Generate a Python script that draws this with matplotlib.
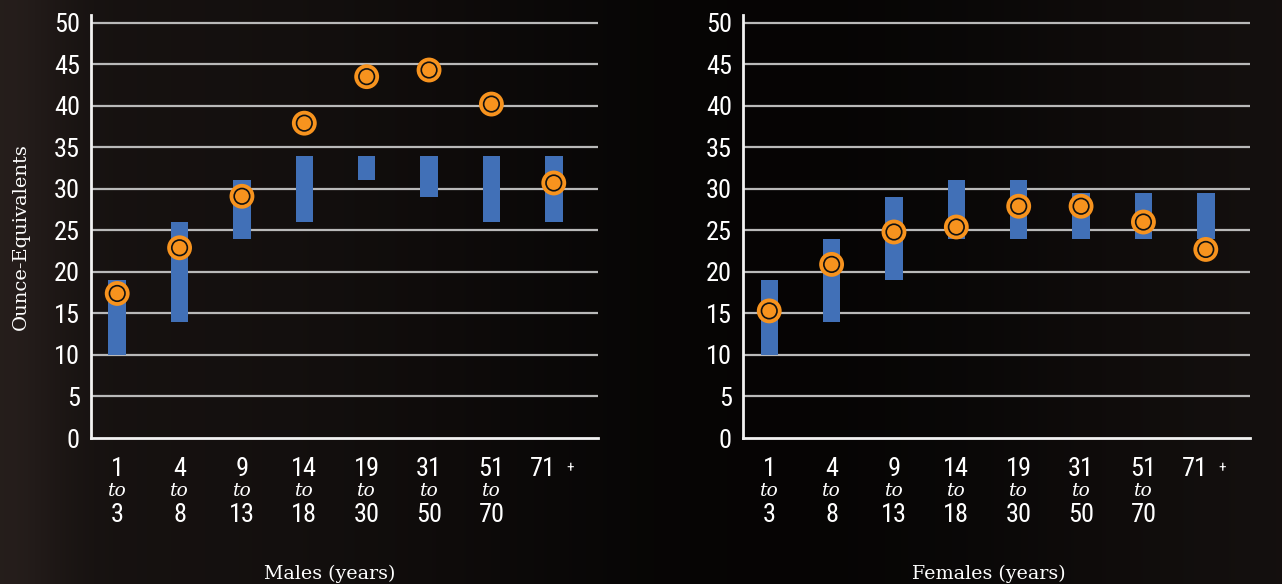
import matplotlib
matplotlib.use("Agg")
import matplotlib.pyplot as plt
from matplotlib import font_manager
import numpy as np

# ---- data ----
age_start = ["1", "4", "9", "14", "19", "31", "51", "71"]
age_end = ["3", "8", "13", "18", "30", "50", "70", ""]

male_low = [10, 14, 24, 26, 31, 29, 26, 26]
male_high = [19, 26, 31, 34, 34, 34, 34, 34]
male_current = [17.4, 22.9, 29.1, 37.9, 43.5, 44.3, 40.2, 30.7]

female_low = [10, 14, 19, 24, 24, 24, 24, 24]
female_high = [19, 24, 29, 31, 31, 29.5, 29.5, 29.5]
female_current = [15.3, 20.9, 24.8, 25.4, 27.9, 27.9, 26.0, 22.7]

y_ticks = [0, 5, 10, 15, 20, 25, 30, 35, 40, 45, 50]

# ---- fonts ----
available = {f.name for f in font_manager.fontManager.ttflist}
num_font = None
for cand in ["Liberation Sans Narrow", "DejaVu Sans Condensed", "Roboto Condensed", "Roboto"]:
    if cand in available:
        num_font = cand
        break
if num_font is None:
    num_font = "DejaVu Sans"
serif_font = "DejaVu Serif"

BAR = "#4170b7"
ORANGE = "#f7931e"
GRID = "#b9b9b9"
TXT = "#ffffff"

fig = plt.figure(figsize=(12.82, 5.84), dpi=100)
fig.patch.set_facecolor("#140e0c")

# smooth horizontal shading of the backdrop (deterministic gradient)
bg = fig.add_axes([0, 0, 1, 1], zorder=-10)
xs = np.linspace(0, 1, 600)
shade = (0.075 - 0.055 * np.exp(-((xs - 0.6) / 0.3) ** 2)
         + 0.05 * np.exp(-((xs - 0.0) / 0.05) ** 2))
img = np.zeros((2, len(xs), 3))
img[..., 0] = shade * 1.2
img[..., 1] = shade * 0.95
img[..., 2] = shade * 0.88
bg.imshow(np.clip(img, 0, 1), aspect="auto", extent=[0, 1, 0, 1])
bg.set_axis_off()

panels = [
    (0.071, male_low, male_high, male_current, "Males (years)"),
    (0.5796, female_low, female_high, female_current, "Females (years)"),
]

x = np.arange(len(age_start))
for i, (left, lo, hi, cur, title) in enumerate(panels):
    ax = fig.add_axes([left, 0.25, 0.3955, 0.724])
    ax.set_facecolor("none")
    ax.set_xlim(-0.42, 7.71)
    ax.set_ylim(0, 50.9)
    for yv in y_ticks[1:]:
        ax.axhline(yv, color=GRID, lw=1.6, zorder=1)
    heights = [h - l for h, l in zip(hi, lo)]
    ax.bar(x, heights, bottom=lo, width=0.28, color=BAR, zorder=2)
    ax.scatter(x, cur, s=320, color=ORANGE, edgecolors="none", zorder=3)
    ax.scatter(x, cur, s=125, facecolors="none", edgecolors="#111111", linewidths=1.2, zorder=4)

    for sp in ["top", "right"]:
        ax.spines[sp].set_visible(False)
    for sp in ["left", "bottom"]:
        ax.spines[sp].set_color("#f2f2f2")
        ax.spines[sp].set_linewidth(2)
    ax.set_yticks(y_ticks)
    ax.set_yticklabels([str(v) for v in y_ticks], family=num_font, fontsize=19, color=TXT)
    ax.tick_params(axis="y", length=0, pad=8)
    ax.set_xticks([])

    for xi, (a, b) in enumerate(zip(age_start, age_end)):
        if b:
            ax.text(xi, -3.7, a, ha="center", va="center", family=num_font, fontsize=19, color=TXT)
            ax.text(xi, -6.4, "to", ha="center", va="center", family=serif_font,
                    style="italic", fontsize=13.5, color=TXT)
            ax.text(xi, -9.3, b, ha="center", va="center", family=num_font, fontsize=19, color=TXT)
        else:
            ax.text(xi - 0.17, -3.7, a, ha="center", va="center", family=num_font,
                    fontsize=19, color=TXT)
            ax.text(xi + 0.26, -3.7, "+", ha="center", va="center", family=num_font,
                    fontsize=11, color=TXT)

    ax.text(3.41 if i == 0 else 3.52, -16.3, title, ha="center", va="center",
            family=serif_font, fontsize=13.7, color=TXT)
    if i == 0:
        fig.text(0.0160, 0.595, "Ounce-Equivalents", rotation=90, ha="center", va="center",
                 family=serif_font, fontsize=14, color=TXT)

fig.savefig("out.png", dpi=100, facecolor=fig.get_facecolor())
